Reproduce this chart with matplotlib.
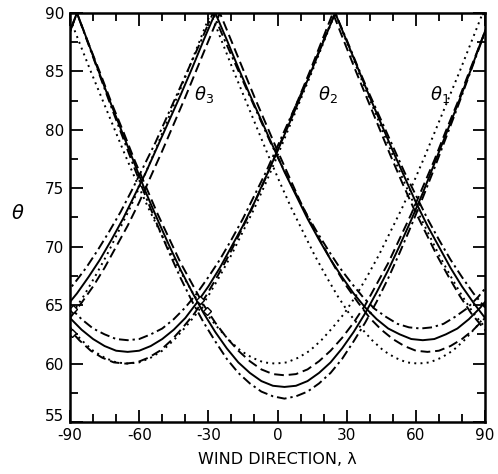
import numpy as np
import matplotlib
matplotlib.use("Agg")
import matplotlib.pyplot as plt
import matplotlib.transforms as mtransforms
from matplotlib.ticker import MultipleLocator

plt.rcParams['font.family'] = ['DejaVu Sans']
plt.rcParams['axes.unicode_minus'] = False
plt.rcParams['mathtext.fontset'] = 'dejavusans'

# --- data (wind direction lambda -> theta) ---
# theta 1 family
t1_lam = np.arange(-92, 94, 5)
t1_solid = [87.4, 90, 87.4, 84.7, 82.1, 79.6, 77.1, 74.6, 72.3, 70.1, 68.0, 66.1, 64.3, 62.7, 61.3, 60.1, 59.2, 58.5, 58.1,
            58.0, 58.1, 58.5, 59.2, 60.1, 61.3, 62.7, 64.3, 66.1, 68.0, 70.1, 72.3, 74.6, 77.1, 79.6, 82.1, 84.7, 87.4, 90]
t1_dashdot = [87.3, 90, 87.3, 84.6, 81.9, 79.3, 76.7, 74.2, 71.8, 69.5, 67.3, 65.3, 63.5, 61.9, 60.4, 59.2, 58.3, 57.6, 57.2,
              57.0, 57.2, 57.6, 58.3, 59.2, 60.4, 61.9, 63.5, 65.3, 67.3, 69.5, 71.8, 74.2, 76.7, 79.3, 81.9, 84.6, 87.3, 90]
t1_dashed = [87.4, 90, 87.4, 84.9, 82.3, 79.9, 77.4, 75.1, 72.8, 70.7, 68.6, 66.8, 65.0, 63.5, 62.2, 61.1, 60.2, 59.5, 59.1,
             59.0, 59.1, 59.5, 60.2, 61.1, 62.2, 63.5, 65.0, 66.8, 68.6, 70.7, 72.8, 75.1, 77.4, 79.9, 82.3, 84.9, 87.4, 90]
t1_dotted_lam = np.arange(-91, 95, 5)
t1_dotted = [90, 87.5, 85.0, 82.6, 80.2, 77.8, 75.5, 73.3, 71.3, 69.3, 67.5, 65.8, 64.3, 63.1, 62.0, 61.1, 60.5, 60.1,
             60.0, 60.1, 60.5, 61.1, 62.0, 63.1, 64.3, 65.8, 67.5, 69.3, 71.3, 73.3, 75.5, 77.8, 80.2, 82.6, 85.0, 87.5, 90, 87.5]

# theta 2 family
t2_lam = np.arange(-90, 91, 5)
t2_solid = [63.9, 62.9, 62.1, 61.5, 61.1, 61.0, 61.1, 61.5, 62.1, 62.9, 63.9, 65.2, 66.6, 68.2, 70.0, 71.8, 73.8, 76.0, 78.2,
            80.5, 82.8, 85.2, 87.6, 90, 87.6, 85.2, 82.8, 80.5, 78.2, 76.0, 73.8, 71.8, 70.0, 68.2, 66.6, 65.2, 63.9]
t2_dashdot = [64.8, 63.8, 63.0, 62.5, 62.1, 62.0, 62.1, 62.5, 63.0, 63.8, 64.8, 66.0, 67.4, 68.9, 70.6, 72.4, 74.4, 76.4, 78.6,
              80.8, 83.0, 85.3, 87.7, 90, 87.7, 85.3, 83.0, 80.8, 78.6, 76.4, 74.4, 72.4, 70.6, 68.9, 67.4, 66.0, 64.8]
t2_dashed_lam = np.arange(-96, 95, 5)
t2_dashed = [64.3, 63.1, 62.0, 61.1, 60.5, 60.1, 60.0, 60.1, 60.5, 61.1, 62.0, 63.1, 64.3, 65.8, 67.5, 69.3, 71.3, 73.3, 75.5,
             77.8, 80.2, 82.6, 85.0, 87.5, 90, 87.5, 85.0, 82.6, 80.2, 77.8, 75.5, 73.3, 71.3, 69.3, 67.5, 65.8, 64.3, 63.1, 62.0]
t2_dotted_lam = np.arange(-95, 91, 5)
t2_dotted = [64.3, 63.1, 62.0, 61.1, 60.5, 60.1, 60.0, 60.1, 60.5, 61.1, 62.0, 63.1, 64.3, 65.8, 67.5, 69.3, 71.3, 73.3, 75.5,
             77.8, 80.2, 82.6, 85.0, 87.5, 90, 87.5, 85.0, 82.6, 80.2, 77.8, 75.5, 73.3, 71.3, 69.3, 67.5, 65.8, 64.3, 63.1]

# theta 3 family
t3_solid_lam = np.arange(-92, 94, 5)
t3_solid = [64.8, 66.0, 67.4, 68.9, 70.6, 72.4, 74.4, 76.4, 78.6, 80.8, 83.0, 85.3, 87.7, 90, 87.7, 85.3, 83.0, 80.8, 78.6,
            76.4, 74.4, 72.4, 70.6, 68.9, 67.4, 66.0, 64.8, 63.8, 63.0, 62.5, 62.1, 62.0, 62.1, 62.5, 63.0, 63.8, 64.8, 66.0]
t3_dashdot_lam = np.arange(-93, 93, 5)
t3_dashdot = [65.7, 66.9, 68.2, 69.7, 71.3, 73.0, 74.9, 76.9, 78.9, 81.1, 83.3, 85.5, 87.7, 90, 87.7, 85.5, 83.3, 81.1, 78.9,
              76.9, 74.9, 73.0, 71.3, 69.7, 68.2, 66.9, 65.7, 64.7, 64.0, 63.4, 63.1, 63.0, 63.1, 63.4, 64.0, 64.7, 65.7, 66.9]
t3_dashed_lam = np.arange(-90, 91, 5)
t3_dashed = [63.9, 65.2, 66.6, 68.2, 70.0, 71.8, 73.8, 76.0, 78.2, 80.5, 82.8, 85.2, 87.6, 90, 87.6, 85.2, 82.8, 80.5, 78.2,
             76.0, 73.8, 71.8, 70.0, 68.2, 66.6, 65.2, 63.9, 62.9, 62.1, 61.5, 61.1, 61.0, 61.1, 61.5, 62.1, 62.9, 63.9]
t3_dotted_lam = np.arange(-94, 92, 5)
t3_dotted = [63.1, 64.3, 65.8, 67.5, 69.3, 71.3, 73.3, 75.5, 77.8, 80.2, 82.6, 85.0, 87.5, 90, 87.5, 85.0, 82.6, 80.2, 77.8,
             75.5, 73.3, 71.3, 69.3, 67.5, 65.8, 64.3, 63.1, 62.0, 61.1, 60.5, 60.1, 60.0, 60.1, 60.5, 61.1, 62.0, 63.1, 64.3]

# small open diamonds drawn at a few crossings
mark_lam = [-33.8, -30.7, -88.7, -89.0]
mark_theta = [65.4, 64.5, 64.7, 62.6]

curve_labels = [r'$\theta_1$', r'$\theta_2$', r'$\theta_3$']
label_lam = [70.5, 22, -32]
label_theta = [83, 83, 83]

# --- styles ---
SOLID = '-'
DASHED = (0, (5, 2.5))
DASHDOT = (0, (5, 2, 1.2, 2))
DOTTED = (0, (1, 2.2))
LW = 1.4

fig = plt.figure(figsize=(4.98, 4.74), dpi=100)
ax = fig.add_axes([0.1406, 0.1097, 0.8334, 0.8629])

curves = [
    (t1_lam, t1_solid, SOLID), (t1_lam, t1_dashdot, DASHDOT), (t1_lam, t1_dashed, DASHED), (t1_dotted_lam, t1_dotted, DOTTED),
    (t2_lam, t2_solid, SOLID), (t2_lam, t2_dashdot, DASHDOT), (t2_dashed_lam, t2_dashed, DASHED), (t2_dotted_lam, t2_dotted, DOTTED),
    (t3_solid_lam, t3_solid, SOLID), (t3_dashdot_lam, t3_dashdot, DASHDOT), (t3_dashed_lam, t3_dashed, DASHED),
    (t3_dotted_lam, t3_dotted, DOTTED),
]
for lam, th, ls in curves:
    ax.plot(lam, th, color='black', linestyle=ls, linewidth=LW)

ax.plot(mark_lam, mark_theta, linestyle='none', marker='D', markersize=4.5,
        markerfacecolor='white', markeredgecolor='black', markeredgewidth=1.0)

for txt, x, y in zip(curve_labels, label_lam, label_theta):
    ax.text(x, y, txt, fontsize=13, ha='center', va='center')

ax.set_xlim(-90, 90)
ax.set_ylim(55, 90)
ax.xaxis.set_major_locator(MultipleLocator(30))
ax.xaxis.set_minor_locator(MultipleLocator(10))
ax.yaxis.set_major_locator(MultipleLocator(5))
ax.yaxis.set_minor_locator(MultipleLocator(2.5))
ax.tick_params(which='both', direction='in', top=True, right=True, width=1.3, labelsize=11)
ax.tick_params(which='major', length=9)
ax.tick_params(which='minor', length=6)
ax.tick_params(axis='x', pad=4)
ax.tick_params(axis='y', pad=4)
for s in ax.spines.values():
    s.set_linewidth(1.8)

ax.set_xlabel('WIND DIRECTION, λ', fontsize=11.5, labelpad=7)
ax.set_ylabel(r'$\theta$', fontsize=14, rotation=0, va='center')
ax.yaxis.set_label_coords(-0.125, 0.51)

# lift the bottom "55" label a little so it clears "-90"
fig.canvas.draw()
for lab in ax.get_yticklabels():
    if lab.get_text() == '55':
        lab.set_transform(lab.get_transform() + mtransforms.ScaledTranslation(0, 5 / 72, fig.dpi_scale_trans))

fig.savefig('out.png', dpi=100)
